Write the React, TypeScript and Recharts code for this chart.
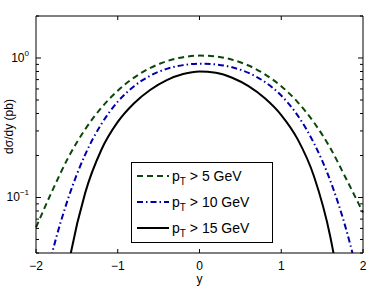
import React from 'react';
import { LineChart, Line, XAxis, YAxis, Legend } from 'recharts';

// rapidity grid and dσ/dy (pb), three pT cuts
const rapidity = [-2.0, -1.8, -1.6, -1.4, -1.2, -1.0, -0.8, -0.6, -0.4, -0.2, 0.0, 0.2, 0.4, 0.6, 0.8, 1.0, 1.2, 1.4, 1.6, 1.8, 2.0];
const pt5 = [0.061, 0.112, 0.196, 0.307, 0.44, 0.583, 0.724, 0.849, 0.948, 1.014, 1.04, 1.026, 0.972, 0.883, 0.764, 0.628, 0.483, 0.345, 0.226, 0.134, 0.078];
const pt10 = [0.0123, 0.0405, 0.101, 0.202, 0.336, 0.486, 0.628, 0.748, 0.836, 0.889, 0.91, 0.899, 0.857, 0.782, 0.673, 0.538, 0.388, 0.245, 0.132, 0.0574, 0.0194];
const pt15 = [0.001, 0.005, 0.0331, 0.107, 0.22, 0.348, 0.474, 0.592, 0.694, 0.767, 0.8, 0.783, 0.722, 0.628, 0.514, 0.39, 0.262, 0.142, 0.0523, 0.0101, 0.001];

const xTicks = [-2, -1, 0, 1, 2];
const yTicks = [0.04, 0.05, 0.06, 0.07, 0.08, 0.09, 0.1, 0.2, 0.3, 0.4, 0.5, 0.6, 0.7, 0.8, 0.9, 1, 2];
const yMajor: Record<number, string> = { 0.1: '−1', 1: '0' };

const series = [
  { key: 'pt5', cut: '5', color: '#0b470b', dash: '6 4' },
  { key: 'pt10', cut: '10', color: '#0000a8', dash: '6 3 1.5 3' },
  { key: 'pt15', cut: '15', color: '#000000', dash: undefined as string | undefined },
];

const data = rapidity.map((y, i) => ({ y, pt5: pt5[i], pt10: pt10[i], pt15: pt15[i] }));

const FONT = '"Liberation Sans", Arial, Helvetica, sans-serif';

const BottomTick = ({ x, y, payload }: any) => (
  <g>
    <line x1={x} y1={y} x2={x} y2={y - 4} stroke="#000" />
    <text x={x} y={y + 17} textAnchor="middle" fontSize={12} fontFamily={FONT} fill="#000">
      {payload.value < 0 ? `−${Math.abs(payload.value)}` : payload.value}
    </text>
  </g>
);

const TopTick = ({ x, y }: any) => <line x1={x} y1={y} x2={x} y2={y + 4} stroke="#000" />;

const LeftTick = ({ x, y, payload }: any) => {
  const exp = yMajor[payload.value];
  return (
    <g>
      <line x1={x} y1={y} x2={x + (exp ? 5 : 3)} y2={y} stroke="#000" />
      {exp && (
        <text x={x - 7} y={y + 4} textAnchor="end" fontSize={12} fontFamily={FONT} fill="#000">
          10
          <tspan dy={-6} fontSize={8}>{exp}</tspan>
        </text>
      )}
    </g>
  );
};

const RightTick = ({ x, y, payload }: any) => (
  <line x1={x} y1={y} x2={x - (yMajor[payload.value] ? 5 : 3)} y2={y} stroke="#000" />
);

const YLabel = ({ viewBox }: any) => {
  const cx = 9;
  const cy = viewBox.y + viewBox.height / 2 - 8;
  return (
    <text x={cx} y={cy} transform={`rotate(-90 ${cx} ${cy})`} textAnchor="middle" dominantBaseline="central" fontSize={12} fontFamily={FONT} fill="#000">
      dσ/dy (pb)
    </text>
  );
};

// drawn in series order, the box MATLAB puts over the plot
const LegendBox = () => (
  <div style={{ width: 140, height: 79, border: '1px solid #000', background: '#fff', fontFamily: FONT, fontSize: 14 }}>
    {series.map((s) => (
      <div key={s.key} style={{ display: 'flex', alignItems: 'center', height: 26 }}>
        <svg width={40} height={26} style={{ display: 'block', flex: 'none' }}>
          <line x1={5} y1={13} x2={37} y2={13} stroke={s.color} strokeWidth={2} strokeDasharray={s.dash} />
        </svg>
        <span style={{ whiteSpace: 'nowrap', color: '#000' }}>
          p<sub style={{ fontSize: 10, verticalAlign: -4, lineHeight: 0 }}>T</sub> &gt; {s.cut} GeV
        </span>
      </div>
    ))}
  </div>
);

export default function App() {
  return (
    <div style={{ position: 'absolute', left: 0, top: 0, background: '#fff' }}>
      <LineChart width={374} height={294} data={data} margin={{ top: 15, right: 10, bottom: 11, left: 0 }}>
        <XAxis
          dataKey="y"
          type="number"
          domain={[-2, 2]}
          ticks={xTicks}
          height={30}
          tickSize={0}
          tickMargin={0}
          stroke="#000"
          tick={<BottomTick />}
          label={{ value: 'y', position: 'insideBottom', offset: 0, fontSize: 12, fontFamily: FONT, fill: '#000' }}
        />
        <XAxis
          xAxisId="top"
          dataKey="y"
          type="number"
          orientation="top"
          domain={[-2, 2]}
          ticks={[-1, 0, 1]}
          height={1}
          tickSize={0}
          tickMargin={0}
          stroke="#000"
          tick={<TopTick />}
        />
        <YAxis
          scale="log"
          type="number"
          domain={[0.04, 2]}
          allowDataOverflow
          ticks={yTicks}
          interval={0}
          width={36}
          tickSize={0}
          tickMargin={0}
          stroke="#000"
          tick={<LeftTick />}
          label={<YLabel />}
        />
        <YAxis
          yAxisId="right"
          orientation="right"
          scale="log"
          type="number"
          domain={[0.04, 2]}
          allowDataOverflow
          ticks={yTicks}
          interval={0}
          width={1}
          tickSize={0}
          tickMargin={0}
          stroke="#000"
          tick={<RightTick />}
        />
        <Legend
          layout="vertical"
          align="center"
          verticalAlign="middle"
          content={<LegendBox />}
          wrapperStyle={{ position: 'absolute', left: 131, top: 162, width: 142 }}
        />
        {series.map((s) => (
          <Line
            key={s.key}
            dataKey={s.key}
            type="monotone"
            stroke={s.color}
            strokeWidth={2}
            strokeDasharray={s.dash}
            dot={false}
            activeDot={false}
            isAnimationActive={false}
          />
        ))}
        {/* invisible copy so the top and right box axes get drawn */}
        <Line
          dataKey="pt5"
          xAxisId="top"
          yAxisId="right"
          stroke="none"
          legendType="none"
          dot={false}
          activeDot={false}
          isAnimationActive={false}
        />
      </LineChart>
    </div>
  );
}
